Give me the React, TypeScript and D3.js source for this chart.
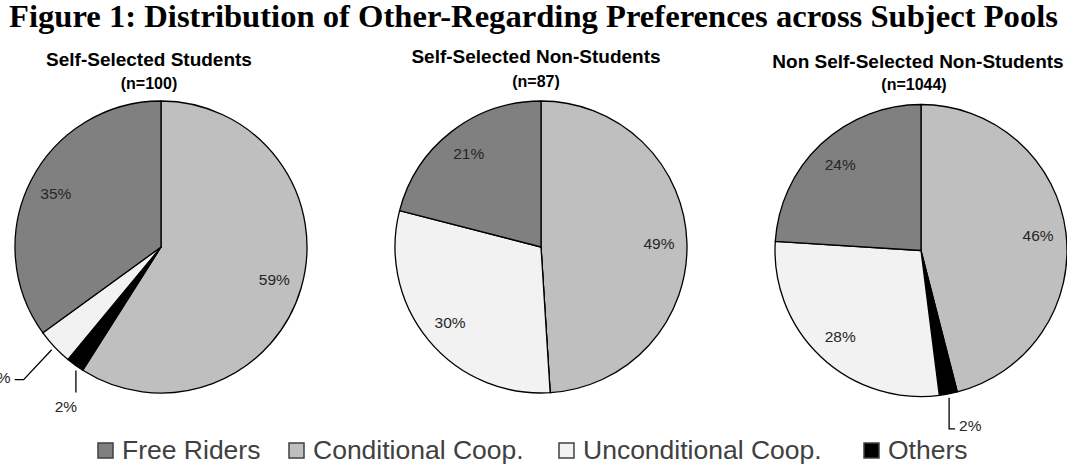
import { useMemo } from "react";
import * as d3 from "d3";

//  DATA
//-------------------------------------------------------//

const categories = ["Free Riders", "Conditional Coop.", "Unconditional Coop.", "Others"];
const pools = ["Self-Selected Students", "Self-Selected Non-Students", "Non Self-Selected Non-Students"];
const poolSizes = ["(n=100)", "(n=87)", "(n=1044)"];

// shares in %, same order as categories
const selfSelectedStudents = [35, 59, 4, 2];
const selfSelectedNonStudents = [21, 49, 30, 0];
const nonSelfSelectedNonStudents = [24, 46, 28, 2];
const poolValues = [selfSelectedStudents, selfSelectedNonStudents, nonSelfSelectedNonStudents];

// slices run clockwise from 12 o'clock in this order
const sliceOrder = ["Conditional Coop.", "Others", "Unconditional Coop.", "Free Riders"];

const title = "Figure 1: Distribution of Other-Regarding Preferences across Subject Pools";

//  LAYOUT / STYLE
//-------------------------------------------------------//

const W = 1067;
const H = 466;
const radius = 146;
const labelRadius = 118;
const colors = ["#808080", "#bfbfbf", "#f2f2f2", "#000000"];
const centerY = [247, 247, 250.5];
const headX = [-12, -5, -3];
const headY = [66, 63, 68];
const sizeX = [-12, -5, -7];
const sizeY = [89, 87, 90];
const legendX = [97, 288, 558, 863];

// small slices get a leader line: at = where along the slice it starts,
// steps = relative moves, text = offset from last point
const callouts = [
  { pool: 0, cat: "Unconditional Coop.", at: 0.5, steps: [[-28, 30], [-9, 0]], text: [-4, 3], anchor: "end" },
  { pool: 0, cat: "Others", at: 0.3, steps: [[0, 22]], text: [-10, 19], anchor: "middle" },
  { pool: 2, cat: "Others", at: 0.5, steps: [[0, 31], [6, 0]], text: [4, 2], anchor: "start" },
];

const sans = "'Liberation Sans', Arial, sans-serif";

type Slice = { cat: string; value: number };

export default function App() {
  const x = d3.scalePoint<string>().domain(pools).range([161, 921]);
  const color = d3.scaleOrdinal<string, string>().domain(categories).range(colors);

  const pie = d3.pie<Slice>().sort(null).value(d => d.value);
  const arc = d3.arc<d3.PieArcDatum<Slice>>().innerRadius(0).outerRadius(radius);
  const labelArc = d3.arc<d3.PieArcDatum<Slice>>().innerRadius(labelRadius).outerRadius(labelRadius);

  const pies = useMemo(
    () =>
      pools.map((p, i) =>
        pie(sliceOrder.map(cat => ({ cat, value: poolValues[i][categories.indexOf(cat)] })))
      ),
    []
  );

  return (
    <svg width={W} height={H} style={{ position: "absolute", left: 0, top: 0, background: "#fff" }}>
      <text x={W / 2} y={27} textAnchor="middle" fontFamily="'Liberation Serif', 'Times New Roman', serif"
        fontWeight="bold" fontSize={31} textLength={1049} lengthAdjust="spacingAndGlyphs">
        {title}
      </text>

      {pools.map((p, i) => {
        const cx = x(p)!;
        const cy = centerY[i];
        return (
          <g key={p}>
            <text x={cx + headX[i]} y={headY[i]} textAnchor="middle" fontFamily={sans} fontWeight="bold" fontSize={19}>
              {p}
            </text>
            <text x={cx + sizeX[i]} y={sizeY[i]} textAnchor="middle" fontFamily={sans} fontWeight="bold" fontSize={16}>
              {poolSizes[i]}
            </text>
            <g transform={`translate(${cx},${cy})`}>
              {pies[i].map(a => (
                <path key={a.data.cat} d={arc(a) ?? ""} fill={color(a.data.cat)} stroke="#000"
                  strokeWidth={1.3} strokeLinejoin="round" />
              ))}
              {pies[i]
                .filter(a => a.data.value >= 5)
                .map(a => {
                  const [lx, ly] = labelArc.centroid(a);
                  return (
                    <text key={a.data.cat} x={lx} y={ly} dy="0.35em" textAnchor="middle"
                      fontFamily={sans} fontSize={15.5} fill="#262626">
                      {a.data.value}%
                    </text>
                  );
                })}
              {callouts
                .filter(c => c.pool === i)
                .map(c => {
                  const a = pies[i].find(s => s.data.cat === c.cat)!;
                  const ang = a.startAngle + c.at * (a.endAngle - a.startAngle);
                  const pts: [number, number][] = [[Math.sin(ang) * (radius + 4), -Math.cos(ang) * (radius + 4)]];
                  c.steps.forEach(([dx, dy]) => {
                    const [px, py] = pts[pts.length - 1];
                    pts.push([px + dx, py + dy]);
                  });
                  const [ex, ey] = pts[pts.length - 1];
                  return (
                    <g key={c.cat}>
                      <path d={d3.line()(pts) ?? ""} fill="none" stroke="#000" strokeWidth={1.3} />
                      <text x={ex + c.text[0]} y={ey + c.text[1]} textAnchor={c.anchor}
                        fontFamily={sans} fontSize={15.5} fill="#262626">
                        {a.data.value}%
                      </text>
                    </g>
                  );
                })}
            </g>
          </g>
        );
      })}

      <g>
        {categories.map((c, i) => (
          <g key={c} transform={`translate(${legendX[i]},0)`}>
            <rect x={1} y={443} width={15} height={15} fill={color(c)} stroke="#404040" strokeWidth={1.5} />
            <text x={25} y={459} fontFamily={sans} fontSize={26.5} fill="#404040">
              {c}
            </text>
          </g>
        ))}
      </g>
    </svg>
  );
}
